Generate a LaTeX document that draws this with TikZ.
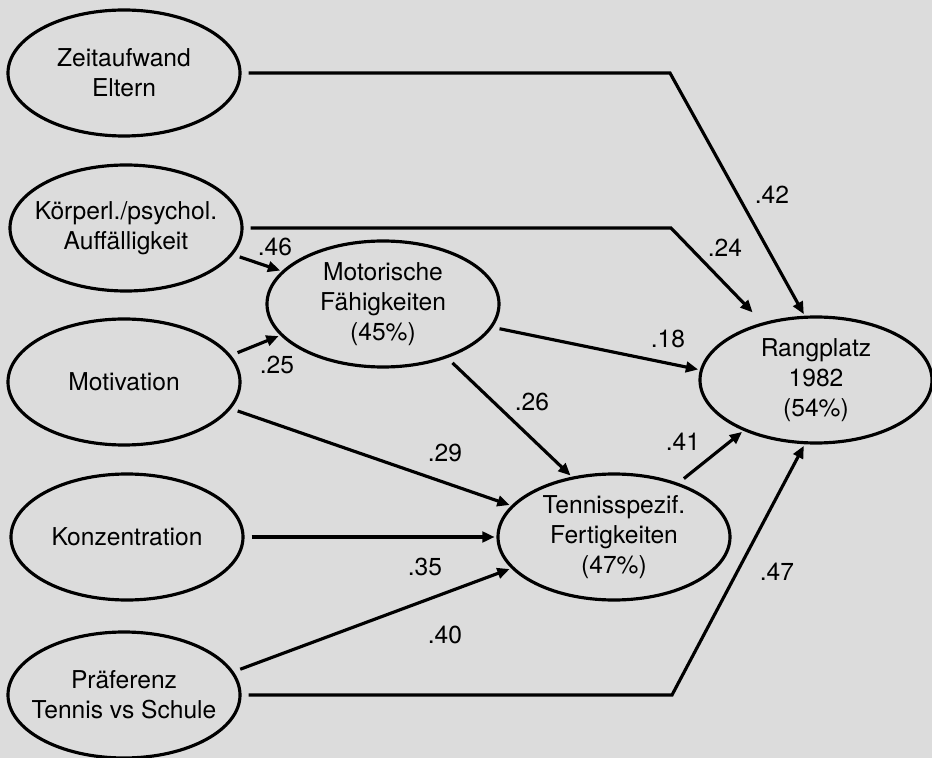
\documentclass[tikz,border=0pt]{standalone}
\usepackage{fontspec}
\setmainfont{TeX Gyre Heros}
\usetikzlibrary{arrows.meta, positioning, shapes.geometric}
\definecolor{papier}{RGB}{220,220,220}

\begin{document}
\begin{tikzpicture}[
  oval/.style={draw, ellipse, line width=1.8pt, minimum width=4.64cm, minimum height=2.52cm,
               inner xsep=-5mm, inner ysep=0pt, align=center, font=\fontsize{14}{17}\selectfont},
  arrow/.style={-{Triangle[length=7pt, width=6pt]}, line width=1.8pt, shorten <=4pt, shorten >=1pt},
  wert/.style={font=\fontsize{14}{16}\selectfont}
]
  \useasboundingbox[fill=papier] (0,0) rectangle (18.64,-15.16);

  % predictors
  \node[oval] (zeit)  at (2.48,-1.46)  {Zeitaufwand\\Eltern};
  \node[oval] (koerp) at (2.52,-4.56)  {Körperl./psychol.\\Auffälligkeit};
  \node[oval] (motiv) at (2.48,-7.64)  {Motivation};
  \node[oval] (konz)  at (2.54,-10.74) {Konzentration};
  \node[oval] (praef) at (2.48,-13.9)  {Präferenz\\Tennis vs Schule};

  % mediators and criterion
  \node[oval] (motor) at (7.66,-6.08)  {Motorische\\Fähigkeiten\\(45\%)};
  \node[oval] (tenn)  at (12.28,-10.74) {Tennisspezif.\\Fertigkeiten\\(47\%)};
  \node[oval] (rang)  at (16.32,-7.6)  {Rangplatz\\1982\\(54\%)};

  \coordinate (k1) at (13.4,-1.46);
  \coordinate (k2) at (13.42,-4.56);
  \coordinate (k3) at (13.44,-13.9);

  \draw[arrow] (zeit.east) -- (k1) -- (rang.100);
  \draw[arrow, shorten >=8pt] (koerp.east) -- (k2) -- (rang.133);
  \draw[arrow] (koerp.-14) -- (motor.162);
  \draw[arrow] (motiv.14) -- (motor.197);
  \draw[arrow] (motor.-12) -- (rang.175);
  \draw[arrow] (motor.-40) -- (tenn.125);
  \draw[arrow] (motiv.-14) -- (tenn.163);
  \draw[arrow] (konz.east) -- (tenn.west);
  \draw[arrow] (praef.12) -- (tenn.197);
  \draw[arrow] (tenn.40) -- (rang.215);
  \draw[arrow] (praef.east) -- (k3) -- (rang.-100);

  % path coefficients
  \node[wert] (w42) at (15.44,-3.9)  {.42};
  \node[wert] (w24) at (14.5,-4.96)  {.24};
  \node[wert] (w46) at (5.5,-4.94)   {.46};
  \node[wert] (w25) at (5.54,-7.3)   {.25};
  \node[wert] (w18) at (13.36,-6.78) {.18};
  \node[wert] (w26) at (10.64,-8.04) {.26};
  \node[wert] (w29) at (8.9,-9.06)   {.29};
  \node[wert] (w35) at (8.5,-11.34)  {.35};
  \node[wert] (w40) at (8.9,-12.7)   {.40};
  \node[wert] (w41) at (13.66,-8.84) {.41};
  \node[wert] (w47) at (15.54,-11.44) {.47};
\end{tikzpicture}
\end{document}
